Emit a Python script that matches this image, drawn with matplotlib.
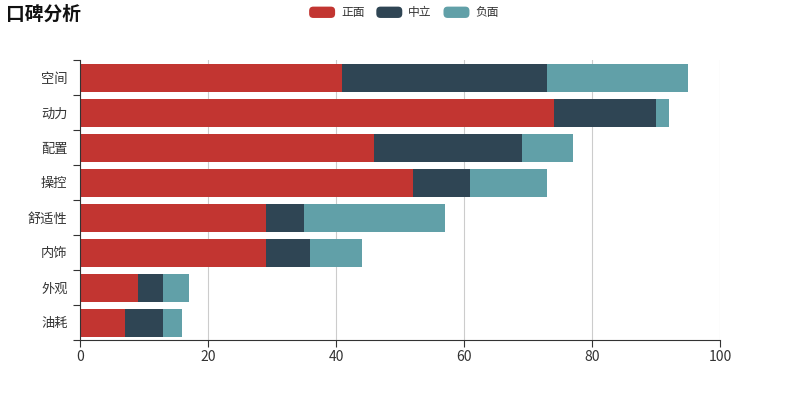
import numpy as np
import matplotlib.pyplot as plt
from matplotlib.patches import Patch, FancyBboxPatch
from matplotlib.legend_handler import HandlerPatch

plt.rcParams['font.family'] = ['Noto Sans CJK SC', 'DejaVu Sans']

categories = ["空间", "动力", "配置", "操控", "舒适性", "内饰", "外观", "油耗"]
positive = [41, 74, 46, 52, 29, 29, 9, 7]
neutral = [32, 16, 23, 9, 6, 7, 4, 6]
negative = [22, 2, 8, 12, 22, 8, 4, 3]
series_names = ["正面", "中立", "负面"]
colors = ["#c23531", "#2f4554", "#61a0a8"]


class RoundHandler(HandlerPatch):
    def create_artists(self, legend, orig_handle, xdescent, ydescent,
                       width, height, fontsize, trans):
        p = FancyBboxPatch((-xdescent, -ydescent), width, height,
                           boxstyle="round,pad=0,rounding_size=3",
                           facecolor=orig_handle.get_facecolor(),
                           edgecolor='none', transform=trans)
        return [p]


fig = plt.figure(figsize=(8, 4), dpi=100)
ax = fig.add_axes([0.1, 0.15, 0.8, 0.7])

y = np.arange(len(categories))
left = np.zeros(len(categories))
for vals, name, c in zip([positive, neutral, negative], series_names, colors):
    ax.barh(y, vals, left=left, height=0.8, color=c, label=name)
    left += np.array(vals)

ax.set_ylim(len(categories) - 0.5, -0.5)
ax.set_xlim(0, 100)
ax.set_xticks([0, 20, 40, 60, 80, 100])
ax.grid(axis='x', color='#cccccc', linewidth=0.8)
ax.set_axisbelow(True)

# category boundaries as major ticks, labels on minor ticks
ax.set_yticks(np.arange(len(categories) + 1) - 0.5)
ax.set_yticklabels([])
ax.set_yticks(y, minor=True)
ax.set_yticklabels(categories, minor=True)
ax.tick_params(axis='y', which='minor', length=0, pad=9, labelsize=9.5, labelcolor='#333333')
ax.tick_params(axis='y', which='major', length=5, color='#333333')
ax.tick_params(axis='x', length=5, pad=2, color='#333333', labelsize=10, labelcolor='#333333')

for s in ['top', 'right']:
    ax.spines[s].set_visible(False)
ax.spines['left'].set_color('#333333')
ax.spines['bottom'].set_color('#333333')

fig.text(0.008, 0.965, "口碑分析", fontsize=13.5, fontweight='bold', color='#111111', va='center')

handles = [Patch(facecolor=c, edgecolor=c) for c in colors]
fig.legend(handles, series_names, loc='center', bbox_to_anchor=(0.505, 0.968), ncol=3,
           frameon=False, fontsize=8.5, handlelength=2.2, handleheight=1.1,
           columnspacing=1.0, handletextpad=0.5, labelcolor='#333333',
           handler_map={Patch: RoundHandler()})

fig.savefig("out.png", dpi=100)
